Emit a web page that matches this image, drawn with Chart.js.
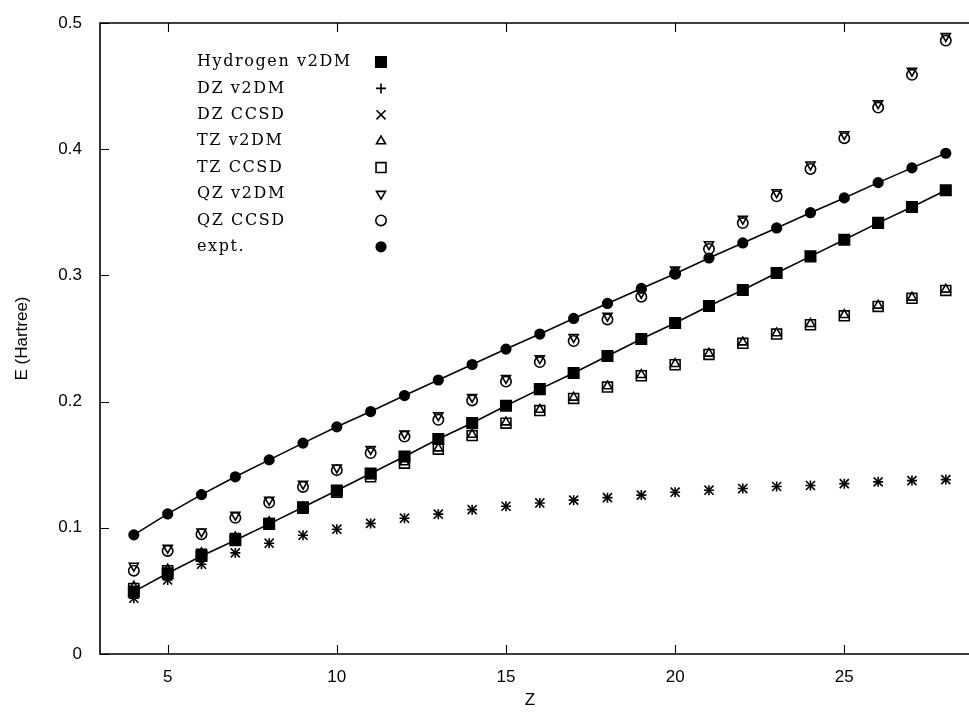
<!DOCTYPE html>
<html lang="en">
<head>
<meta charset="UTF-8">
<title>Correlation energy vs Z</title>
<script src="https://cdn.jsdelivr.net/npm/chart.js"></script>
<style>
    html, body {
        margin: 0;
        padding: 0;
        background: #ffffff;
        overflow: hidden;
    }
    #energyChart {
        display: block;
    }
</style>
</head>
<body>
<canvas id="energyChart" width="969" height="713" style="width:969px;height:713px"></canvas>
<script>
// Nuclear charge Z for every series
const zValues = [4, 5, 6, 7, 8, 9, 10, 11, 12, 13, 14, 15, 16, 17, 18, 19, 20, 21, 22, 23, 24, 25, 26, 27, 28];

// Energies in Hartree
const hydrogenV2dm = [0.0494, 0.0640, 0.0777, 0.0902, 0.1031, 0.1163, 0.1295, 0.1430, 0.1565, 0.1703, 0.1830, 0.1967, 0.2099,
    0.2226, 0.2361, 0.2496, 0.2623, 0.2757, 0.2884, 0.3019, 0.3151, 0.3283, 0.3416, 0.3542, 0.3674];
const dzV2dm = [0.0442, 0.0587, 0.0711, 0.0801, 0.0878, 0.0941, 0.0989, 0.1035, 0.1076, 0.1108, 0.1144, 0.1171, 0.1197,
    0.1219, 0.1239, 0.1259, 0.1282, 0.1298, 0.1311, 0.1327, 0.1335, 0.1350, 0.1364, 0.1374, 0.1382];
const dzCcsd = [0.0442, 0.0587, 0.0711, 0.0801, 0.0878, 0.0941, 0.0989, 0.1035, 0.1076, 0.1108, 0.1144, 0.1171, 0.1197,
    0.1219, 0.1239, 0.1259, 0.1282, 0.1298, 0.1311, 0.1327, 0.1335, 0.1350, 0.1364, 0.1374, 0.1382];
const tzV2dm = [0.0534, 0.0670, 0.0800, 0.0925, 0.1045, 0.1163, 0.1290, 0.1412, 0.1520, 0.1630, 0.1738, 0.1836, 0.1936,
    0.2032, 0.2122, 0.2212, 0.2299, 0.2381, 0.2470, 0.2542, 0.2616, 0.2687, 0.2761, 0.2825, 0.2888];
const tzCcsd = [0.0520, 0.0660, 0.0790, 0.0915, 0.1035, 0.1155, 0.1282, 0.1404, 0.1512, 0.1623, 0.1731, 0.1829, 0.1929,
    0.2025, 0.2115, 0.2205, 0.2292, 0.2374, 0.2462, 0.2535, 0.2609, 0.2680, 0.2754, 0.2818, 0.2881];
const qzV2dm = [0.0698, 0.0841, 0.0970, 0.1102, 0.1221, 0.1348, 0.1477, 0.1623, 0.1747, 0.1890, 0.2036, 0.2186, 0.2342,
    0.2511, 0.2680, 0.2860, 0.3045, 0.3246, 0.3447, 0.3658, 0.3878, 0.4118, 0.4362, 0.4620, 0.4895];
const qzCcsd = [0.0660, 0.0817, 0.0949, 0.1079, 0.1200, 0.1324, 0.1457, 0.1592, 0.1723, 0.1856, 0.2009, 0.2159, 0.2313,
    0.2480, 0.2651, 0.2831, 0.3013, 0.3209, 0.3415, 0.3627, 0.3843, 0.4087, 0.4330, 0.4589, 0.4861];
const experiment = [0.0944, 0.1110, 0.1263, 0.1404, 0.1538, 0.1671, 0.1800, 0.1921, 0.2048, 0.2171, 0.2294, 0.2416, 0.2535,
    0.2659, 0.2778, 0.2897, 0.3013, 0.3138, 0.3257, 0.3376, 0.3497, 0.3614, 0.3735, 0.3852, 0.3968];

const xTicks = [5, 10, 15, 20, 25];
const yTicks = [0, 0.1, 0.2, 0.3, 0.4, 0.5];

const toPoints = (values) => values.map((v, i) => ({ x: zValues[i], y: v }));

const CLEAR = 'rgba(0,0,0,0)';
const LABEL_FONT = '"Liberation Sans", Arial, sans-serif';

// marker settings per series, in key order
const seriesList = [
    { label: 'Hydrogen v2DM', data: hydrogenV2dm, pointStyle: 'rect', radius: 7.4, fill: '#000', line: true },
    { label: 'DZ v2DM', data: dzV2dm, pointStyle: 'cross', radius: 5, fill: CLEAR },
    { label: 'DZ CCSD', data: dzCcsd, pointStyle: 'crossRot', radius: 6.4, fill: CLEAR },
    { label: 'TZ v2DM', data: tzV2dm, pointStyle: 'triangle', radius: 5.2, fill: CLEAR },
    { label: 'TZ CCSD', data: tzCcsd, pointStyle: 'rect', radius: 7, fill: CLEAR },
    { label: 'QZ v2DM', data: qzV2dm, pointStyle: 'triangle', rotation: 180, radius: 5.2, fill: CLEAR },
    { label: 'QZ CCSD', data: qzCcsd, pointStyle: 'circle', radius: 5.2, fill: CLEAR },
    { label: 'expt.', data: experiment, pointStyle: 'circle', radius: 4.8, fill: '#000', line: true }
];

const datasets = seriesList.map((s, i) => ({
    label: s.label,
    data: toPoints(s.data),
    showLine: !!s.line,
    borderColor: '#000',
    borderWidth: 1.6,
    backgroundColor: s.fill,
    pointStyle: s.pointStyle,
    pointRotation: s.rotation || 0,
    pointRadius: s.radius,
    pointBorderWidth: 1.6,
    pointBorderColor: '#000',
    pointBackgroundColor: s.fill,
    clip: false,
    order: seriesList.length - i
}));

// gnuplot style frame (right side runs off the canvas) with inward ticks
const frameTicks = {
    id: 'frameTicks',
    afterDraw(chart) {
        const { ctx, chartArea: a, scales } = chart;
        const len = 9;
        ctx.save();
        ctx.strokeStyle = '#000';
        ctx.lineWidth = 1.6;
        ctx.beginPath();
        ctx.moveTo(chart.width, a.top);
        ctx.lineTo(a.left, a.top);
        ctx.lineTo(a.left, a.bottom);
        ctx.lineTo(chart.width, a.bottom);
        ctx.stroke();
        ctx.lineWidth = 1.1;
        ctx.beginPath();
        xTicks.forEach(v => {
            const px = Math.round(scales.x.getPixelForValue(v)) + 0.5;
            ctx.moveTo(px, a.bottom); ctx.lineTo(px, a.bottom - len);
            ctx.moveTo(px, a.top); ctx.lineTo(px, a.top + len);
        });
        yTicks.forEach(v => {
            const py = Math.round(scales.y.getPixelForValue(v)) + 0.5;
            ctx.moveTo(a.left, py); ctx.lineTo(a.left + len, py);
        });
        ctx.stroke();
        ctx.restore();
    }
};

// key inside the plot: text first, sample marker to the right
const insideKey = {
    id: 'insideKey',
    afterDraw(chart) {
        const ctx = chart.ctx;
        const textX = 197, markX = 381, top = 62, step = 26.4;
        ctx.save();
        ctx.font = '16px "DejaVu Serif"';
        if ('letterSpacing' in ctx) ctx.letterSpacing = '1.6px';
        ctx.textBaseline = 'middle';
        ctx.textAlign = 'left';
        seriesList.forEach((s, i) => {
            const y = top + i * step;
            ctx.fillStyle = '#000';
            ctx.fillText(s.label, textX, y);
            ctx.fillStyle = s.fill;
            ctx.strokeStyle = '#000';
            ctx.lineWidth = 1.6;
            Chart.helpers.drawPoint(ctx, {
                pointStyle: s.pointStyle,
                radius: s.radius,
                rotation: s.rotation || 0,
                borderWidth: 1.6
            }, markX, y);
        });
        ctx.restore();
    }
};

new Chart(document.getElementById('energyChart'), {
    type: 'scatter',
    data: { datasets },
    plugins: [frameTicks, insideKey],
    options: {
        responsive: false,
        animation: false,
        layout: { padding: { top: 23, right: 0, left: 0, bottom: 0 } },
        plugins: {
            legend: { display: false },
            tooltip: { enabled: false }
        },
        scales: {
            x: {
                type: 'linear',
                min: 3,
                max: 28.42,
                afterFit: (scale) => { scale.height = 59; },
                afterBuildTicks: (scale) => { scale.ticks = xTicks.map(v => ({ value: v })); },
                grid: { display: false },
                border: { display: false },
                ticks: {
                    color: '#000',
                    padding: 5,
                    font: { family: LABEL_FONT, size: 17 }
                },
                title: {
                    display: true,
                    text: 'Z',
                    color: '#000',
                    padding: { top: 0, bottom: 2 },
                    font: { family: LABEL_FONT, size: 17 }
                }
            },
            y: {
                type: 'linear',
                min: 0,
                max: 0.5,
                afterFit: (scale) => { scale.width = 100; },
                afterBuildTicks: (scale) => { scale.ticks = yTicks.map(v => ({ value: v })); },
                grid: { display: false },
                border: { display: false },
                ticks: {
                    color: '#000',
                    padding: 10,
                    font: { family: LABEL_FONT, size: 17 },
                    callback: (v) => v === 0 ? '0' : v.toFixed(1)
                },
                title: {
                    display: true,
                    text: 'E (Hartree)',
                    color: '#000',
                    padding: { top: 12, bottom: 0 },
                    font: { family: LABEL_FONT, size: 17 }
                }
            }
        }
    }
});
</script>
</body>
</html>
